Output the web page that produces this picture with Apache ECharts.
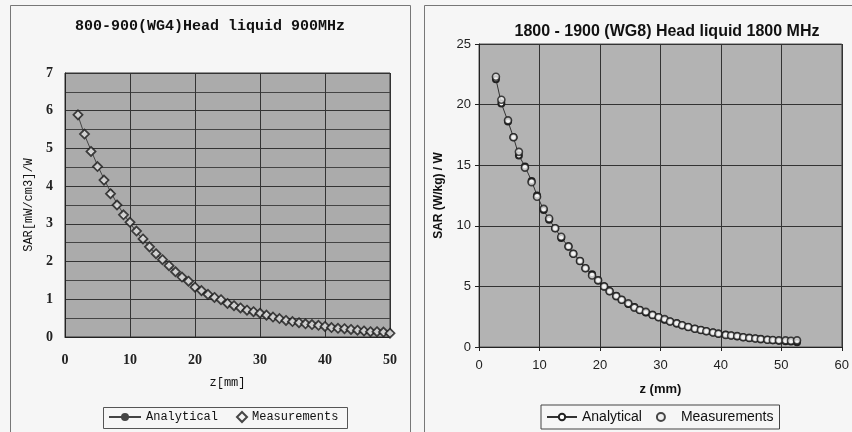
<!DOCTYPE html>
<html>
<head>
<meta charset="utf-8">
<script src="https://cdn.jsdelivr.net/npm/echarts@6/dist/echarts.min.js"></script>
<style>
  html, body { margin: 0; padding: 0; background: #f6f6f6; }
  #left { position: absolute; left: 0; top: 0; width: 420px; height: 432px; }
  #right { position: absolute; left: 420px; top: 0; width: 432px; height: 432px; }
</style>
</head>
<body>
<div id="left"></div>
<div id="right"></div>
<script>
// ---- Left chart: 800-900 (WG4) Head liquid 900 MHz ----
const leftZ = [2,3,4,5,6,7,8,9,10,11,12,13,14,15,16,17,18,19,20,21,22,23,24,25,26,27,28,29,30,31,32,33,34,35,36,37,38,39,40,41,42,43,44,45,46,47,48,49,50];
const leftMeasured = [5.89,5.38,4.92,4.52,4.16,3.80,3.50,3.24,3.04,2.81,2.60,2.39,2.21,2.05,1.89,1.73,1.59,1.48,1.32,1.23,1.13,1.05,0.99,0.89,0.83,0.77,0.71,0.67,0.63,0.58,0.53,0.49,0.44,0.41,0.38,0.35,0.33,0.31,0.28,0.25,0.23,0.22,0.20,0.18,0.16,0.14,0.14,0.13,0.10];
const leftAnalytical = [5.87,5.36,4.95,4.55,4.19,3.85,3.54,3.26,3.02,2.79,2.58,2.38,2.20,2.04,1.88,1.73,1.60,1.47,1.34,1.23,1.14,1.05,0.97,0.89,0.82,0.76,0.71,0.66,0.61,0.56,0.52,0.48,0.44,0.41,0.38,0.35,0.33,0.30,0.28,0.26,0.24,0.22,0.20,0.19,0.17,0.16,0.15,0.14,0.13];
const leftXTicks = [0, 50, 10];   // min, max, interval
const leftYTicks = [0, 7, 1];

// ---- Right chart: 1800 - 1900 (WG8) Head liquid 1800 MHz ----
const rightZ = [2.8,3.7,4.8,5.7,6.6,7.6,8.7,9.6,10.7,11.6,12.6,13.6,14.8,15.6,16.7,17.6,18.7,19.7,20.7,21.6,22.7,23.6,24.7,25.7,26.6,27.6,28.7,29.7,30.7,31.6,32.7,33.6,34.6,35.7,36.7,37.6,38.7,39.6,40.8,41.7,42.7,43.7,44.7,45.7,46.6,47.7,48.6,49.6,50.7,51.6,52.6];
const rightMeasured = [22.3,20.4,18.7,17.3,16.1,14.8,13.6,12.4,11.4,10.6,9.8,9.1,8.3,7.7,7.1,6.5,5.9,5.5,5.0,4.6,4.2,3.9,3.6,3.25,3.05,2.9,2.65,2.45,2.3,2.1,1.95,1.8,1.65,1.5,1.4,1.3,1.2,1.1,1.0,0.95,0.9,0.8,0.75,0.7,0.65,0.6,0.58,0.55,0.55,0.52,0.55];
const rightAnalytical = [22.1,20.1,18.6,17.3,15.8,14.9,13.7,12.5,11.3,10.5,9.8,9.0,8.3,7.7,7.1,6.5,6.0,5.5,5.0,4.6,4.2,3.9,3.55,3.3,3.05,2.85,2.65,2.45,2.25,2.1,1.95,1.8,1.65,1.5,1.4,1.3,1.2,1.1,1.02,0.95,0.88,0.8,0.75,0.7,0.65,0.6,0.56,0.52,0.48,0.45,0.4];
const rightXTicks = [0, 60, 10];
const rightYTicks = [0, 25, 5];

function pairs(xs, ys) { return xs.map((x, i) => [x, ys[i]]); }

const monoFont = 'Liberation Mono';
const serifFont = 'Liberation Serif';
const sansFont = 'Liberation Sans';

const left = echarts.init(document.getElementById('left'));
const leftLegendText = { fontFamily: monoFont, fontSize: 12, color: '#111' };
left.setOption({
  animation: false,
  backgroundColor: '#f6f6f6',
  graphic: [{
    type: 'rect', left: 8, top: 3,
    shape: { width: 400, height: 440 },
    style: { fill: 'none', stroke: '#777', lineWidth: 1 }
  }, {
    type: 'rect', left: 103, top: 407,
    shape: { width: 244, height: 21 },
    style: { fill: '#f6f6f6', stroke: '#555', lineWidth: 1 }
  }],
  title: {
    text: '800-900(WG4)Head liquid 900MHz',
    left: 205, top: 14, textAlign: 'center',
    textStyle: { fontFamily: monoFont, fontWeight: 'bold', fontSize: 15, color: '#111' }
  },
  legend: [{
    left: 106, top: 409, padding: [2, 2, 2, 2],
    itemWidth: 32, itemHeight: 10, itemGap: 4,
    textStyle: leftLegendText,
    data: ['Analytical']
  }, {
    left: 234, top: 409, padding: [2, 2, 2, 2],
    itemWidth: 10, itemHeight: 10,
    textStyle: leftLegendText,
    data: [{ name: 'Measurements', icon: 'diamond' }]
  }],
  grid: {
    left: 65, right: 30, top: 73, bottom: 95,
    show: true, backgroundColor: '#ababab', borderColor: '#333', borderWidth: 1
  },
  xAxis: {
    type: 'value', min: leftXTicks[0], max: leftXTicks[1], interval: leftXTicks[2],
    name: 'z[mm]', nameLocation: 'middle', nameGap: 40,
    nameTextStyle: { fontFamily: monoFont, fontSize: 12, color: '#111' },
    axisLine: { show: true, lineStyle: { color: '#222' } },
    axisTick: { show: false },
    axisLabel: { fontFamily: serifFont, fontWeight: 'bold', fontSize: 14, color: '#222', margin: 16 },
    splitLine: { show: true, lineStyle: { color: '#333', width: 1 } }
  },
  yAxis: {
    type: 'value', min: leftYTicks[0], max: leftYTicks[1], interval: leftYTicks[2],
    name: 'SAR[mW/cm3]/W', nameLocation: 'middle', nameGap: 22,
    nameTextStyle: { fontFamily: monoFont, fontSize: 12, color: '#111' },
    axisLine: { show: true, lineStyle: { color: '#222' } },
    axisTick: { show: false },
    axisLabel: { fontFamily: serifFont, fontWeight: 'bold', fontSize: 14, color: '#222', margin: 12 },
    splitLine: { show: true, lineStyle: { color: '#333', width: 1 } },
    minorTick: { show: false, splitNumber: 2 },
    minorSplitLine: { show: true, lineStyle: { color: '#444', width: 1 } }
  },
  series: [
    {
      name: 'Analytical', type: 'line',
      data: pairs(leftZ, leftAnalytical),
      symbol: 'circle', symbolSize: 5,
      itemStyle: { color: '#444' },
      lineStyle: { color: '#444', width: 1 },
      z: 2
    },
    {
      name: 'Measurements', type: 'scatter',
      data: pairs(leftZ, leftMeasured),
      symbol: 'diamond', symbolSize: 9,
      itemStyle: { color: '#f2f2f2', borderColor: '#1a1a1a', borderWidth: 1.8 },
      z: 3
    }
  ]
});

const right = echarts.init(document.getElementById('right'));
right.setOption({
  animation: false,
  backgroundColor: '#f6f6f6',
  graphic: [{
    type: 'rect', left: 2, top: 3,
    shape: { width: 440, height: 440 },
    style: { fill: 'none', stroke: '#777', lineWidth: 1 }
  }],
  title: {
    text: '1800 - 1900 (WG8) Head liquid 1800 MHz',
    left: 242, top: 19, textAlign: 'center',
    textStyle: { fontFamily: sansFont, fontWeight: 'bold', fontSize: 16, color: '#111' }
  },
  legend: {
    left: 121, top: 405,
    padding: [5, 6, 5, 5],
    itemGap: 14,
    itemWidth: 30, itemHeight: 8,
    borderColor: '#444', borderWidth: 1,
    backgroundColor: '#f6f6f6',
    textStyle: { fontFamily: sansFont, fontSize: 14, color: '#111' },
    data: ['Analytical', 'Measurements']
  },
  grid: {
    left: 59, right: 4, top: 44, bottom: 85,
    show: true, backgroundColor: '#b3b3b3', borderColor: '#555', borderWidth: 1
  },
  xAxis: {
    type: 'value', min: rightXTicks[0], max: rightXTicks[1], interval: rightXTicks[2],
    name: 'z (mm)', nameLocation: 'middle', nameGap: 36,
    nameTextStyle: { fontFamily: sansFont, fontWeight: 'bold', fontSize: 13, color: '#111' },
    axisLine: { show: true, lineStyle: { color: '#222' } },
    axisTick: { show: true, length: 4, lineStyle: { color: '#222' } },
    axisLabel: { fontFamily: sansFont, fontSize: 13, color: '#222', margin: 12 },
    splitLine: { show: true, lineStyle: { color: '#333', width: 1 } }
  },
  yAxis: {
    type: 'value', min: rightYTicks[0], max: rightYTicks[1], interval: rightYTicks[2],
    name: 'SAR (W/kg) / W', nameLocation: 'middle', nameGap: 34,
    nameTextStyle: { fontFamily: sansFont, fontWeight: 'bold', fontSize: 12, color: '#111' },
    axisLine: { show: true, lineStyle: { color: '#222' } },
    axisTick: { show: true, length: 4, lineStyle: { color: '#222' } },
    axisLabel: { fontFamily: sansFont, fontSize: 13, color: '#222', margin: 8 },
    splitLine: { show: true, lineStyle: { color: '#333', width: 1 } }
  },
  series: [
    {
      name: 'Analytical', type: 'line',
      data: pairs(rightZ, rightAnalytical),
      symbol: 'emptyCircle', symbolSize: 6,
      itemStyle: { color: '#222', borderWidth: 1 },
      lineStyle: { color: '#333', width: 1 },
      z: 2
    },
    {
      name: 'Measurements', type: 'scatter',
      data: pairs(rightZ, rightMeasured),
      symbol: 'circle', symbolSize: 7,
      itemStyle: { color: '#f0f0f0', borderColor: '#1a1a1a', borderWidth: 1.6 },
      z: 3
    }
  ]
});
</script>
</body>
</html>
